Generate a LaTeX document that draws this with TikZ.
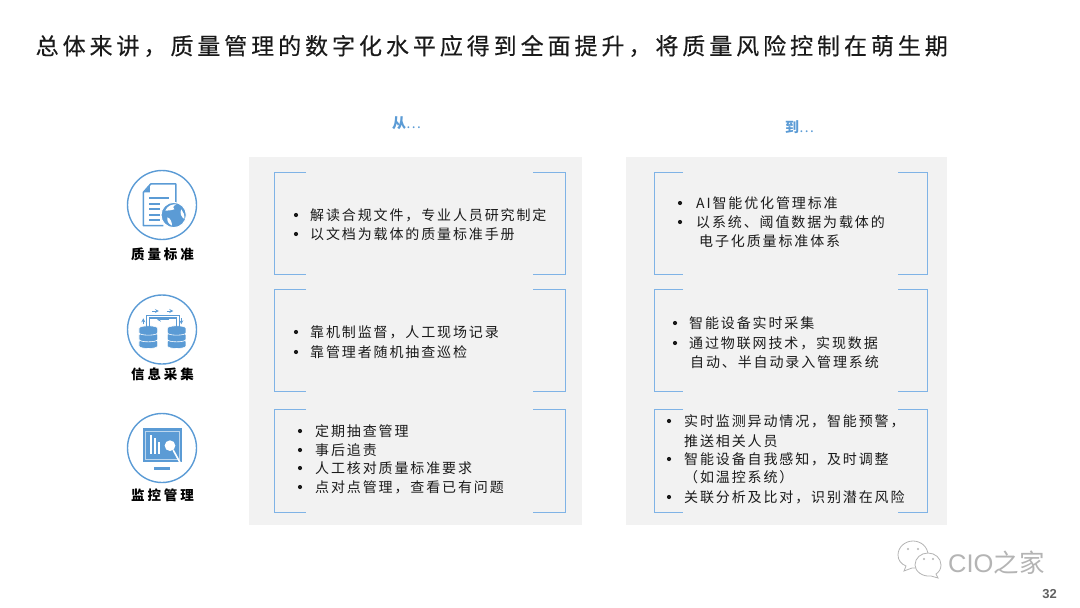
\documentclass[tikz,border=0pt]{standalone}
\usepackage{fontspec}
\setmainfont{Noto Sans CJK SC}
\newfontfamily\titlef[LetterSpace=17.15,FakeBold=0.25]{Noto Sans CJK SC}
\newfontfamily\bodyf[LetterSpace=13.4]{Noto Sans CJK SC}
\newfontfamily\labelf[LetterSpace=22]{Noto Sans CJK SC}
\newfontfamily\markf{Noto Sans CJK SC}
\newfontfamily\numf{Liberation Sans}
\definecolor{iconblue}{HTML}{5B9BD5}
\definecolor{brk}{HTML}{7FB3E6}
\definecolor{panel}{HTML}{F2F2F2}
\definecolor{ink}{HTML}{1A1A1A}
\definecolor{wm}{HTML}{B4B4B4}
\tikzset{
 x=1pt,y=-1pt,
 panelbox/.style={fill=panel,draw=none},
 bodytext/.style={anchor=west,inner sep=0pt,text=ink,font=\fontsize{14}{14}\selectfont\bodyf},
 labeltext/.style={anchor=center,inner sep=0pt,text=black,font=\fontsize{13.5}{14}\selectfont\labelf\bfseries},
 headtext/.style={anchor=west,inner sep=0pt,text=iconblue,font=\fontsize{14}{14}\selectfont\markf\bfseries},
 bracket/.style={draw=brk,line width=1pt},
 ring/.style={draw=iconblue,line width=1.4pt,circle,minimum size=69pt,inner sep=0pt},
 icon/.style={x=0.3333pt,y=-0.3333pt},
 bulletdot/.style={circle,fill=ink,inner sep=0pt,minimum size=4.2pt},
}
\newcommand{\brkpair}[5]{% x1 x2 y1 y2 arm
 \draw[bracket] (#1+#5,#3) -- (#1,#3) -- (#1,#4) -- (#1+#5,#4);
 \draw[bracket] (#2-#5,#3) -- (#2,#3) -- (#2,#4) -- (#2-#5,#4);
}
\newcommand{\disc}[2]{% x, top y
 \fill[iconblue,draw=white,line width=0.6pt] (#1-28,#2) .. controls (#1-28,#2-10) and (#1+28,#2-10) .. (#1+28,#2) -- (#1+28,#2+13) .. controls (#1+28,#2+23) and (#1-28,#2+23) .. (#1-28,#2+13) -- cycle;
}
\begin{document}
\begin{tikzpicture}
\useasboundingbox (0,0) rectangle (1080,608);
\node[anchor=west,inner sep=0pt,text=ink,font=\fontsize{23}{23}\selectfont\titlef] (title) at (35.5,46) {总体来讲，质量管理的数字化水平应得到全面提升，将质量风险控制在萌生期};
\node[headtext] (from) at (392,123) {从{\mdseries ⋯}};
\node[headtext] (to) at (785,127) {到{\mdseries ⋯}};
\fill[panelbox] (249,157) rectangle (582,525);
\fill[panelbox] (626,157) rectangle (947,525);
\brkpair{274}{565}{172}{274}{32}
\brkpair{274}{565}{289}{391}{32}
\brkpair{274}{565}{409}{512}{32}
\brkpair{654}{927}{172}{274}{29}
\brkpair{654}{927}{289}{391}{29}
\brkpair{654}{927}{409}{512}{29}
% rings
\node[ring] (r1) at (162,205) {};
\node[ring] (r2) at (162,329.5) {};
\node[ring] (r3) at (162,448) {};
\node[labeltext] (l1) at (162.5,254) {质量标准};
\node[labeltext] (l2) at (162.5,374) {信息采集};
\node[labeltext] (l3) at (162.5,495) {监控管理};
% icon 1 document + globe
\begin{scope}[shift={(110,160)},icon]
 \draw[iconblue,line width=1.5pt,line join=round] (160,197) -- (100,197) -- (100,97) -- (122,72) -- (198,72) -- (198,135);
 \fill[iconblue] (120,76) -- (120,97) -- (102,97) -- cycle;
 \fill[iconblue] (116,110) rectangle (178,116);
 \foreach \q in {128,145,161,178}{\fill[iconblue] (116,\q) rectangle (150,\q+6);}
 \fill[iconblue,draw=white,line width=1pt] (191,165) circle[radius=38];
 \fill[white] (166,152) .. controls (172,138) and (185,132) .. (199,133) .. controls (189,138) and (186,144) .. (193,148) .. controls (185,153) and (175,150) .. (166,152) -- cycle;
 \fill[white] (214,148) .. controls (221,156) and (224,166) .. (223,177) .. controls (214,172) and (208,158) .. (214,148) -- cycle;
 \fill[white] (172,172) .. controls (181,174) and (186,186) .. (186,197) .. controls (176,192) and (170,183) .. (172,172) -- cycle;
\end{scope}
% icon 2 databases
\begin{scope}[shift={(110,285)},icon]
 \foreach \cx in {115,200}{
  \disc{\cx}{170}
  \disc{\cx}{150}
  \disc{\cx}{130}
 }
 \draw[iconblue,line width=1.1pt] (110,125) -- (110,91) -- (208,91) -- (208,125);
 \draw[iconblue,line width=1.1pt] (118,125) -- (118,99) -- (200,99) -- (200,125);
 \draw[iconblue,line width=0.8pt,-stealth] (127,78) -- (147,78);
 \draw[iconblue,line width=0.8pt,-stealth] (170,78) -- (190,78);
 \draw[iconblue,line width=0.8pt,-stealth] (176,104) -- (141,104);
 \draw[iconblue,line width=0.8pt,-stealth] (100,118) -- (100,100);
 \draw[iconblue,line width=0.8pt,-stealth] (214,100) -- (214,118);
\end{scope}
% icon 3 monitor
\begin{scope}[shift={(110,405)},icon]
 \fill[iconblue] (98,70) rectangle (217,172);
 \draw[white!60!iconblue,line width=0.5pt] (107,79) rectangle (208,163);
 \fill[white] (120,90) rectangle (126,148);
 \fill[white] (132,100) rectangle (138,148);
 \fill[white] (145,112) rectangle (151,148);
 \fill[white] (180,122) circle[radius=16];
 \draw[white,line width=1.6pt,line cap=round] (190,136) -- (212,176);
 \fill[iconblue] (133,185) rectangle (180,194);
\end{scope}
% bullets and text: left column
\node[bulletdot] (b1) at (296,215) {};
\node[bodytext] (t1) at (310,215) {解读合规文件，专业人员研究制定};
\node[bulletdot] (b2) at (296,234) {};
\node[bodytext] (t2) at (310,234) {以文档为载体的质量标准手册};
\node[bulletdot] (b3) at (296,332) {};
\node[bodytext] (t3) at (310,332) {靠机制监督，人工现场记录};
\node[bulletdot] (b4) at (296,352) {};
\node[bodytext] (t4) at (310,352) {靠管理者随机抽查巡检};
\node[bulletdot] (b5) at (300,431) {};
\node[bodytext] (t5) at (315,431) {定期抽查管理};
\node[bulletdot] (b6) at (300,450) {};
\node[bodytext] (t6) at (315,450) {事后追责};
\node[bulletdot] (b7) at (300,468) {};
\node[bodytext] (t7) at (315,468) {人工核对质量标准要求};
\node[bulletdot] (b8) at (300,487) {};
\node[bodytext] (t8) at (315,487) {点对点管理，查看已有问题};
% right column
\node[bulletdot] (c1) at (680,203) {};
\node[bodytext] (u1) at (696,203) {AI智能优化管理标准};
\node[bulletdot] (c2) at (680,222) {};
\node[bodytext] (u2) at (696,222) {以系统、阈值数据为载体的};
\node[bodytext] (u2b) at (699,241) {电子化质量标准体系};
\node[bulletdot] (c3) at (675,323) {};
\node[bodytext] (u3) at (689,323) {智能设备实时采集};
\node[bulletdot] (c4) at (675,343) {};
\node[bodytext] (u4) at (689,343) {通过物联网技术，实现数据};
\node[bodytext] (u4b) at (690,362) {自动、半自动录入管理系统};
\node[bulletdot] (c5) at (669,421) {};
\node[bodytext] (u5) at (684,421) {实时监测异动情况，智能预警，};
\node[bodytext] (u5b) at (684,441) {推送相关人员};
\node[bulletdot] (c6) at (669,459) {};
\node[bodytext] (u6) at (684,459) {智能设备自我感知，及时调整};
\node[bodytext] (u6b) at (684,477) {（如温控系统）};
\node[bulletdot] (c7) at (669,497) {};
\node[bodytext] (u7) at (684,497) {关联分析及比对，识别潜在风险};
% watermark
\draw[wm,line width=0.8pt,fill=white] (906,566) -- (904,571) -- (912,568) .. controls (922,569) and (928,562) .. (928,555) .. controls (928,547) and (921,541) .. (913,541) .. controls (905,541) and (898,547) .. (898,555) .. controls (898,560) and (901,564) .. (906,566) -- cycle;
\draw[wm,line width=0.8pt,fill=white] (936,574) -- (938,578) -- (931,576) .. controls (922,577) and (915,571) .. (915,565) .. controls (915,558) and (921,553) .. (928,553) .. controls (935,553) and (941,558) .. (941,565) .. controls (941,569) and (939,572) .. (936,574) -- cycle;
\fill[wm] (908,549) circle[radius=1.1] (918,549) circle[radius=1.1] (924,559) circle[radius=1.1] (933,559) circle[radius=1.1];
\node[anchor=west,inner sep=0pt,text=wm,font=\fontsize{25.5}{25.5}\selectfont\numf] (wmark) at (948,563) {CIO\markf 之家};
\node[anchor=east,inner sep=0pt,text=black!62,font=\fontsize{13}{13}\selectfont\bfseries\numf] (page) at (1057,594) {\bfseries 32};
\end{tikzpicture}
\end{document}
